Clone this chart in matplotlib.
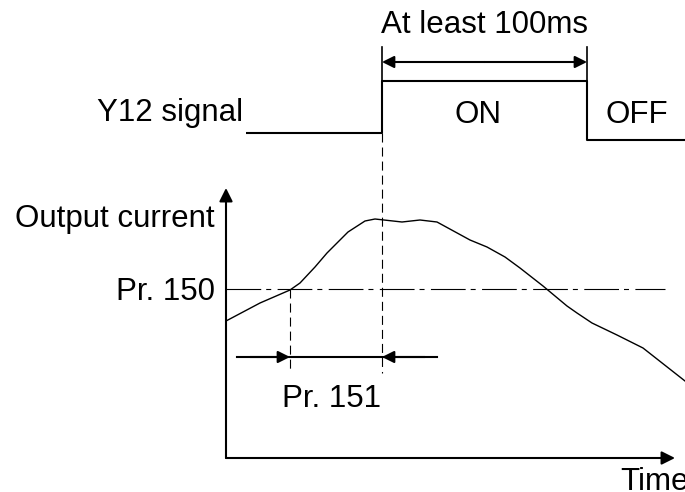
import matplotlib.pyplot as plt
import numpy as np

plt.rcParams['font.family'] = ['Liberation Sans', 'DejaVu Sans']
plt.rcParams['lines.scale_dashes'] = False

# diagram values, in picture units (x: time, y: level, downwards)
curve_t = [226, 260, 290, 300, 315, 327, 348, 365, 375, 402, 420, 437,
           470, 487, 505, 520, 543, 567, 577, 592, 617, 643, 685]
curve_i = [321, 303, 290, 283, 267, 253, 232, 221, 219, 222, 220, 222,
           240, 247, 257, 268, 286, 306, 313, 323, 335, 348, 381]

t_start, t_on, t_off, t_end = 246, 382, 587, 685
sig_low_before, sig_high, sig_low_after = 133, 81, 140
pr150_level = 289
pr150_cross = 290
pr151_y = 357
axis_x0, axis_y0 = 226, 458
axis_top, axis_right = 188, 675

fs = 22.5
fig = plt.figure(figsize=(6.85, 4.92), dpi=100)
ax = fig.add_axes([0, 0, 1, 1])
ax.set_xlim(0, 685)
ax.set_ylim(492, 0)
ax.axis('off')

def arrow(x0, y0, x1, y1, lw=1.5, scale=18):
    ax.annotate('', xy=(x1, y1), xytext=(x0, y0),
                arrowprops=dict(arrowstyle='-|>,head_length=0.4,head_width=0.2',
                                color='black', lw=lw, shrinkA=0, shrinkB=0,
                                mutation_scale=scale))

# Y12 signal
sig_t = [t_start, t_on, t_on, t_off, t_off, t_end]
sig_y = [sig_low_before, sig_low_before, sig_high, sig_high, sig_low_after, sig_low_after]
ax.plot(sig_t, sig_y, color='black', lw=1.5, solid_capstyle='butt')
ax.plot([t_on, t_on], [47, sig_high], color='black', lw=1.2)
ax.plot([t_off, t_off], [47, sig_high], color='black', lw=1.2)
arrow((t_on + t_off) / 2, 62, t_on, 62)
arrow((t_on + t_off) / 2, 62, t_off, 62)

ax.text((t_on + t_off) / 2, 33, 'At least 100ms', fontsize=fs, ha='center', va='baseline')
ax.text(243, 121, 'Y12 signal', fontsize=fs, ha='right', va='baseline')
ax.text(478, 123, 'ON', fontsize=fs, ha='center', va='baseline')
ax.text(637, 123, 'OFF', fontsize=fs, ha='center', va='baseline')

# axes
arrow(axis_x0, axis_y0, axis_x0, axis_top, lw=1.5, scale=20)
arrow(axis_x0, axis_y0, axis_right, axis_y0, lw=1.5, scale=20)
ax.text(215, 227, 'Output current', fontsize=fs, ha='right', va='baseline')
ax.text(620, 490, 'Time', fontsize=fs, ha='left', va='baseline', clip_on=False)

# Pr. 150 level
ax.plot([axis_x0, 665], [pr150_level, pr150_level], color='black', lw=0.8,
        dashes=(25, 3.6, 3.6, 4.6))
ax.text(215, 300, 'Pr. 150', fontsize=fs, ha='right', va='baseline')

# output current
ax.plot(curve_t, curve_i, color='black', lw=1.0)

# dashed markers
ax.plot([t_on, t_on], [sig_low_before, 373], color='black', lw=0.8, dashes=(6.5, 3.6))
ax.plot([pr150_cross, pr150_cross], [pr150_level, 373], color='black', lw=0.8, dashes=(6.5, 3.6))

# Pr. 151 interval
ax.plot([237, 437], [pr151_y, pr151_y], color='black', lw=1.5)
arrow(250, pr151_y, pr150_cross, pr151_y)
arrow(425, pr151_y, t_on, pr151_y)
ax.text(332, 407, 'Pr. 151', fontsize=fs, ha='center', va='baseline')

fig.savefig('out.png', dpi=100)
